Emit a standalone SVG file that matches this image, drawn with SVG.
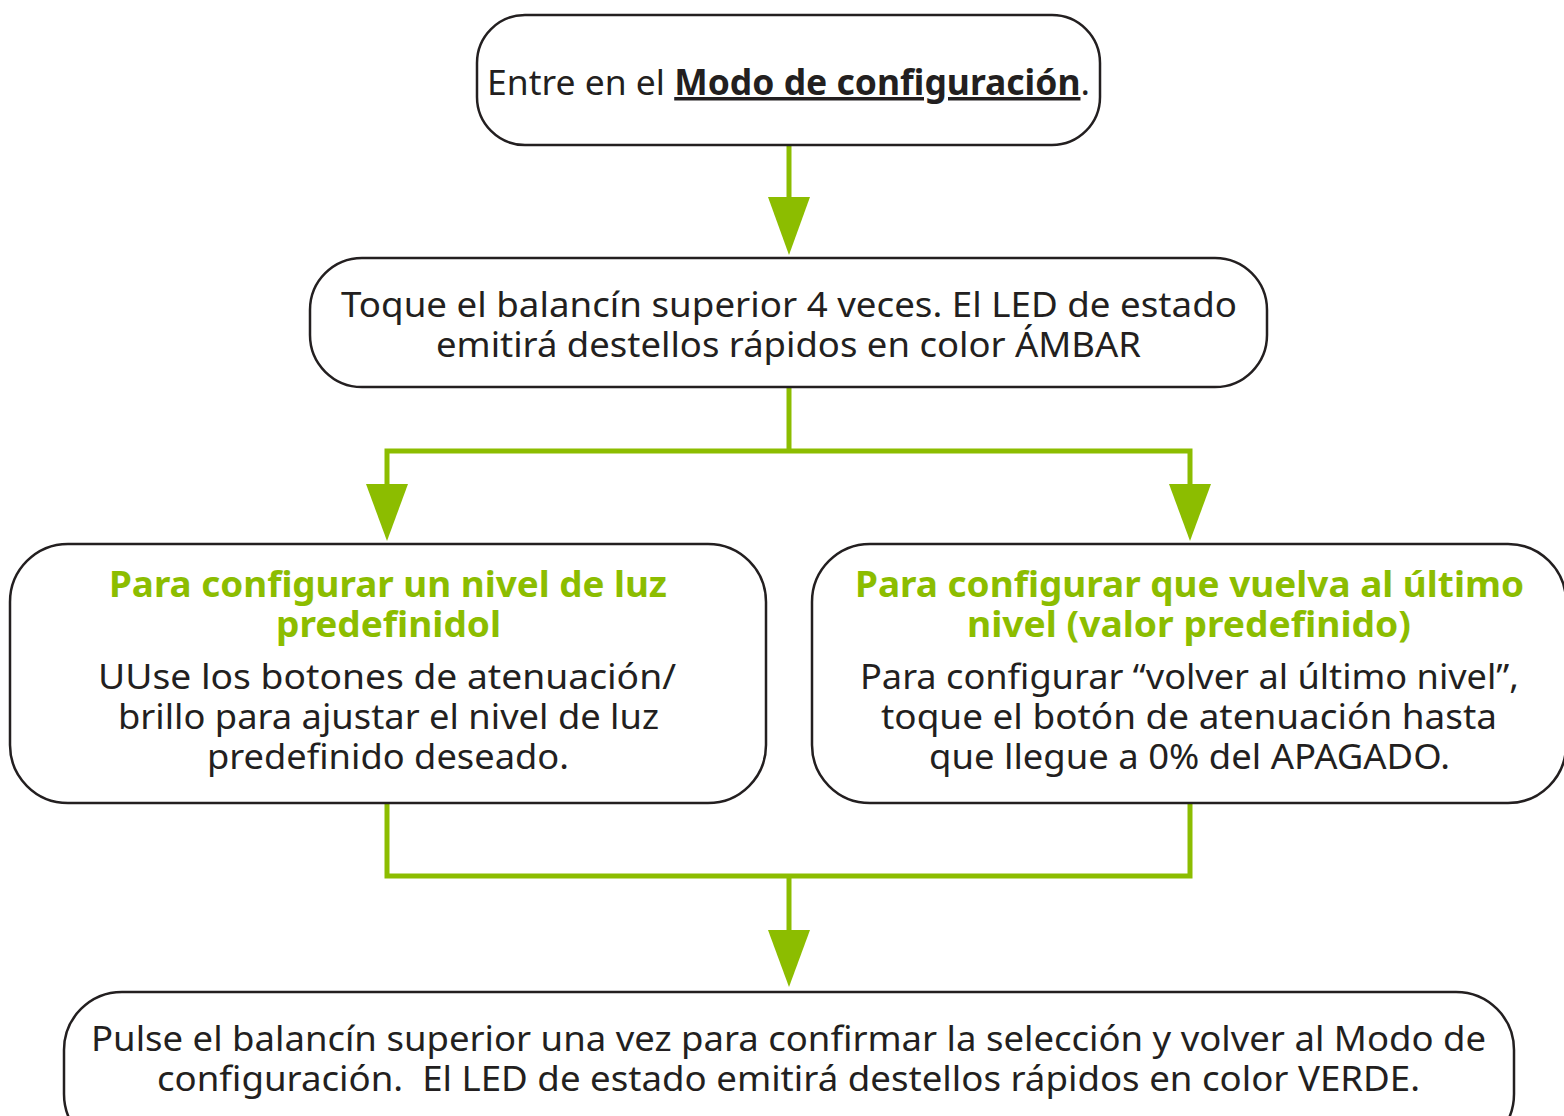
<svg xmlns="http://www.w3.org/2000/svg" width="1564" height="1116" viewBox="0 0 1564 1116">
<defs>
<style>
.box{fill:#fff;stroke:#231f20;stroke-width:2.5}
.t{font-family:"Noto Sans","Liberation Sans",sans-serif;font-size:35px;fill:#231f20;text-anchor:middle}
.g{font-family:"Noto Sans","Liberation Sans",sans-serif;font-size:35px;font-weight:700;fill:#8cbd00;text-anchor:middle}
.c{fill:none;stroke:#8cbd00;stroke-width:5}
.ah{fill:#8cbd00}
</style>
</defs>
<rect width="1564" height="1116" fill="#fff"/>
<g id="connectors">
<line class="c" x1="789" y1="145" x2="789" y2="200"/>
<polygon class="ah" points="768,197 810,197 789,255"/>
<polyline class="c" points="789,387 789,451"/>
<polyline class="c" points="387,487 387,451 1190,451 1190,487"/>
<polygon class="ah" points="366,484 408,484 387,541"/>
<polygon class="ah" points="1169,484 1211,484 1190,541"/>
<polyline class="c" points="387,803 387,876 1190,876 1190,803"/>
<line class="c" x1="789" y1="876" x2="789" y2="933"/>
<polygon class="ah" points="768,930 810,930 789,987"/>
</g>
<g id="n1">
<rect class="box" x="477" y="15" width="623" height="130" rx="48"/>
<text class="t" x="788.5" y="95" textLength="603" lengthAdjust="spacingAndGlyphs">Entre en el <tspan font-weight="700" text-decoration="underline">Modo de configuración</tspan>.</text>
</g>
<g id="n2">
<rect class="box" x="310" y="258" width="957" height="129" rx="52"/>
<text class="t" x="789" y="317" textLength="896" lengthAdjust="spacingAndGlyphs">Toque el balancín superior 4 veces. El LED de estado</text>
<text class="t" x="788.5" y="357" textLength="705" lengthAdjust="spacingAndGlyphs">emitirá destellos rápidos en color ÁMBAR</text>
</g>
<g id="n3">
<rect class="box" x="10" y="544" width="756" height="259" rx="58"/>
<text class="g" x="388" y="597" textLength="558" lengthAdjust="spacingAndGlyphs">Para configurar un nivel de luz</text>
<text class="g" x="388.5" y="637" textLength="225" lengthAdjust="spacingAndGlyphs">predefinidol</text>
<text class="t" x="387" y="689" textLength="578" lengthAdjust="spacingAndGlyphs">UUse los botones de atenuación/</text>
<text class="t" x="388.5" y="729" textLength="541" lengthAdjust="spacingAndGlyphs">brillo para ajustar el nivel de luz</text>
<text class="t" x="388" y="769" textLength="362" lengthAdjust="spacingAndGlyphs">predefinido deseado.</text>
</g>
<g id="n4">
<rect class="box" x="812" y="544" width="754" height="259" rx="58"/>
<text class="g" x="1189.5" y="597" textLength="669" lengthAdjust="spacingAndGlyphs">Para configurar que vuelva al último</text>
<text class="g" x="1189" y="637" textLength="444" lengthAdjust="spacingAndGlyphs">nivel (valor predefinido)</text>
<text class="t" x="1189.5" y="689" textLength="659" lengthAdjust="spacingAndGlyphs">Para configurar “volver al último nivel”,</text>
<text class="t" x="1189" y="729" textLength="616" lengthAdjust="spacingAndGlyphs">toque el botón de atenuación hasta</text>
<text class="t" x="1189.5" y="769" textLength="521" lengthAdjust="spacingAndGlyphs">que llegue a 0% del APAGADO.</text>
</g>
<g id="n5">
<rect class="box" x="64" y="992" width="1450" height="160" rx="58"/>
<text class="t" x="788.5" y="1051" textLength="1395" lengthAdjust="spacingAndGlyphs">Pulse el balancín superior una vez para confirmar la selección y volver al Modo de</text>
<text class="t" x="788.5" y="1091" textLength="1263" lengthAdjust="spacingAndGlyphs" style="white-space:pre">configuración.  El LED de estado emitirá destellos rápidos en color VERDE.</text>
</g>
</svg>
